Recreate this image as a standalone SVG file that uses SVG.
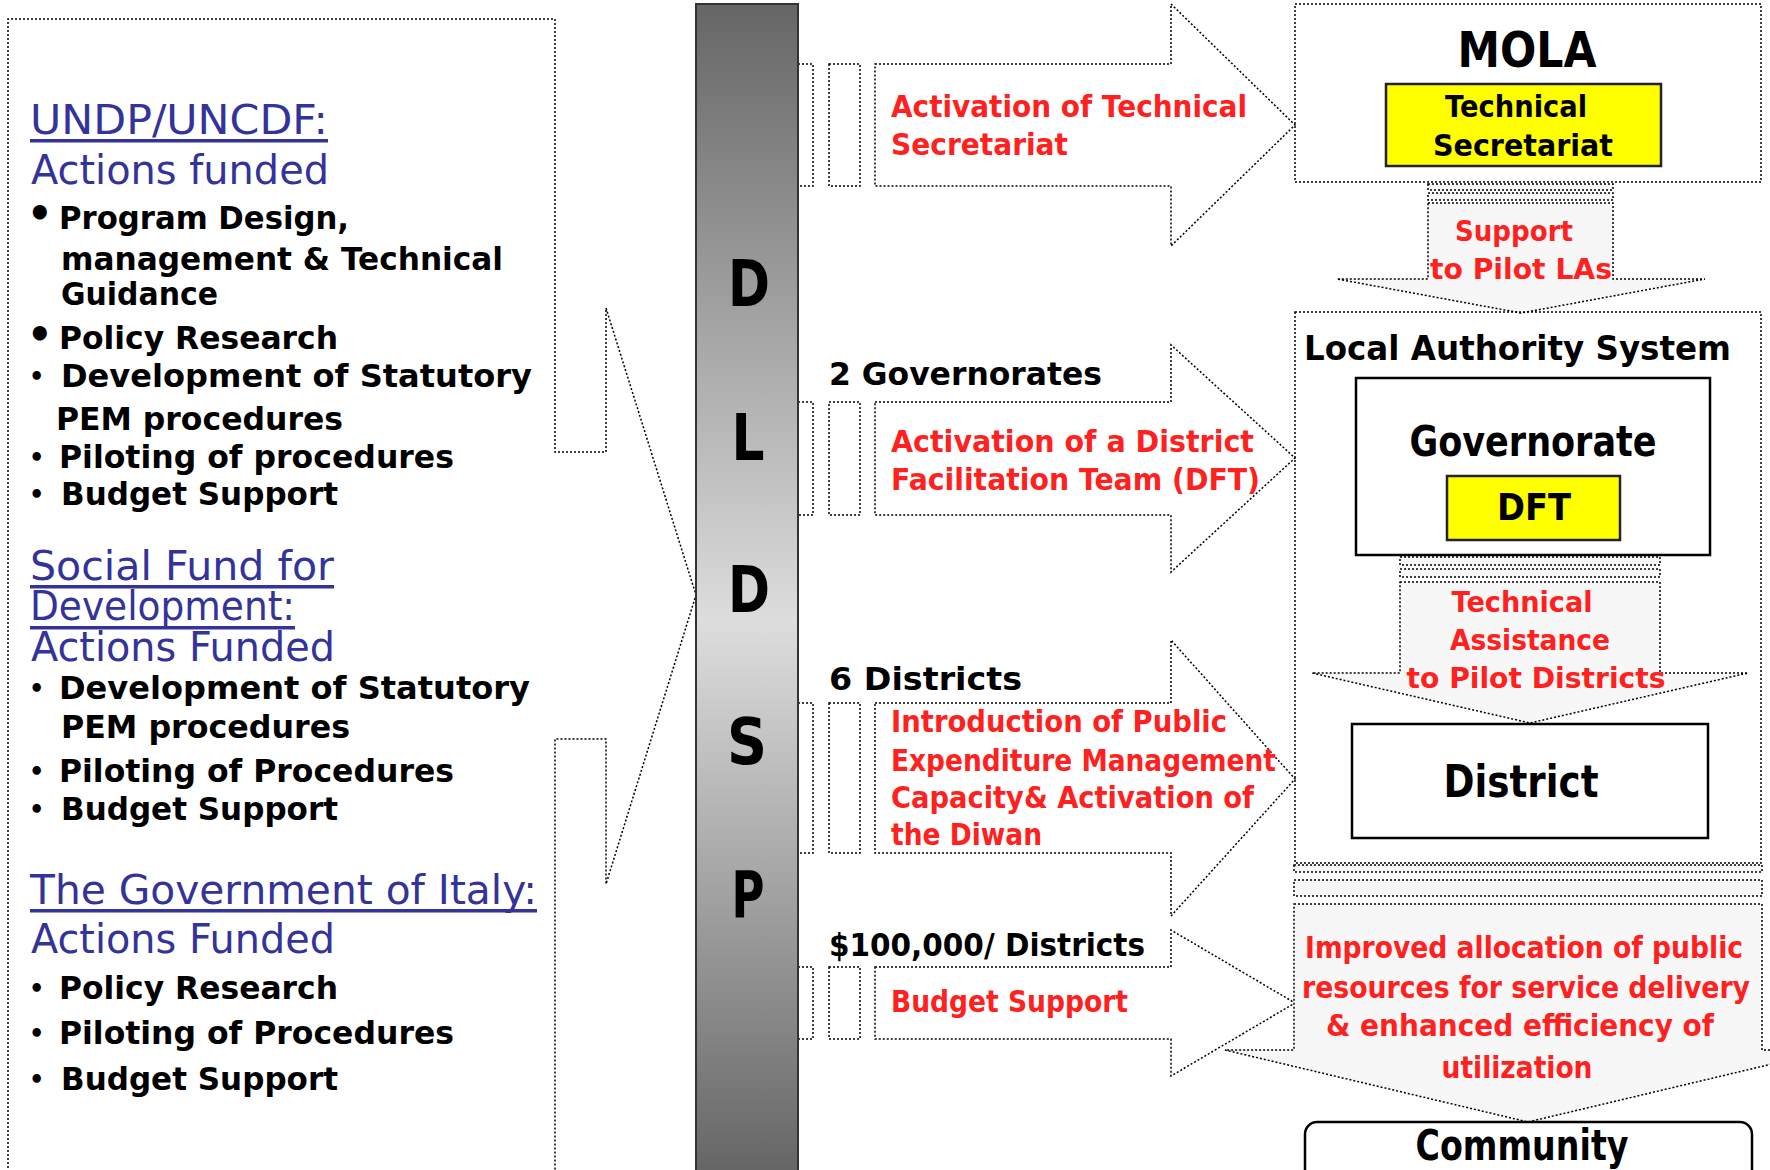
<svg xmlns="http://www.w3.org/2000/svg" width="1770" height="1170" viewBox="0 0 1770 1170">
<defs>
<style>
.dot{fill:none;stroke:#000;stroke-width:1.5;stroke-dasharray:2 2}
.dotf{fill:#f7f7f7;stroke:#000;stroke-width:1.5;stroke-dasharray:2 2}
.solid{fill:#fff;stroke:#000;stroke-width:2.5}
.yel{fill:#ffff00;stroke:#222;stroke-width:2.5}
.b{font-family:"DejaVu Sans",sans-serif;font-weight:bold;fill:#000}
.r{font-family:"DejaVu Sans",sans-serif;font-weight:bold;fill:#ff2020}
.u{font-family:"DejaVu Sans",sans-serif;fill:#333399;font-size:41px}
.lt{font-size:32px}
.sb{font-size:24px}
.m{text-anchor:middle}
</style>
<linearGradient id="barGrad" gradientUnits="userSpaceOnUse" x1="0" y1="4" x2="0" y2="1170">
<stop offset="0" stop-color="#666666"/>
<stop offset="0.53" stop-color="#dddddd"/>
<stop offset="1" stop-color="#666666"/>
</linearGradient>
</defs>
<rect width="1770" height="1170" fill="#fff"/>

<g id="left-box">
<path class="dot" d="M8,1180 V19 H555 V452 H606 V308 L696,595 L606,884 V739 H555 V1180"/>
<text class="u" x="30" y="134" textLength="298" lengthAdjust="spacingAndGlyphs">UNDP/UNCDF:</text>
<rect x="30" y="139" width="298" height="3.5" fill="#333399"/>
<text class="u" x="31" y="184" textLength="298" lengthAdjust="spacingAndGlyphs">Actions funded</text>
<text class="b" x="27" y="227" font-size="40">•</text>
<text class="b lt" x="59" y="229" textLength="290" lengthAdjust="spacingAndGlyphs">Program Design,</text>
<text class="b lt" x="61" y="270" textLength="442" lengthAdjust="spacingAndGlyphs">management &amp; Technical</text>
<text class="b lt" x="61" y="305" textLength="157" lengthAdjust="spacingAndGlyphs">Guidance</text>
<text class="b" x="27" y="348" font-size="40">•</text>
<text class="b lt" x="59" y="349" textLength="279" lengthAdjust="spacingAndGlyphs">Policy Research</text>
<text class="b sb" x="29" y="385">•</text>
<text class="b lt" x="61" y="387" textLength="471" lengthAdjust="spacingAndGlyphs">Development of Statutory</text>
<text class="b lt" x="56" y="430" textLength="287" lengthAdjust="spacingAndGlyphs">PEM procedures</text>
<text class="b sb" x="29" y="466">•</text>
<text class="b lt" x="59" y="468" textLength="395" lengthAdjust="spacingAndGlyphs">Piloting of procedures</text>
<text class="b sb" x="29" y="503">•</text>
<text class="b lt" x="61" y="505" textLength="277" lengthAdjust="spacingAndGlyphs">Budget Support</text>

<text class="u" x="30" y="580" textLength="304" lengthAdjust="spacingAndGlyphs">Social Fund for</text>
<rect x="30" y="585" width="304" height="3.5" fill="#333399"/>
<text class="u" x="30" y="620" textLength="265" lengthAdjust="spacingAndGlyphs">Development:</text>
<rect x="30" y="626" width="265" height="3.5" fill="#333399"/>
<text class="u" x="31" y="661" textLength="304" lengthAdjust="spacingAndGlyphs">Actions Funded</text>
<text class="b sb" x="29" y="697">•</text>
<text class="b lt" x="59" y="699" textLength="471" lengthAdjust="spacingAndGlyphs">Development of Statutory</text>
<text class="b lt" x="61" y="738" textLength="289" lengthAdjust="spacingAndGlyphs">PEM procedures</text>
<text class="b sb" x="29" y="780">•</text>
<text class="b lt" x="59" y="782" textLength="395" lengthAdjust="spacingAndGlyphs">Piloting of Procedures</text>
<text class="b sb" x="29" y="818">•</text>
<text class="b lt" x="61" y="820" textLength="277" lengthAdjust="spacingAndGlyphs">Budget Support</text>

<text class="u" x="30" y="904" textLength="507" lengthAdjust="spacingAndGlyphs">The Government of Italy:</text>
<rect x="30" y="909" width="507" height="3.5" fill="#333399"/>
<text class="u" x="31" y="953" textLength="304" lengthAdjust="spacingAndGlyphs">Actions Funded</text>
<text class="b sb" x="29" y="997">•</text>
<text class="b lt" x="59" y="999" textLength="279" lengthAdjust="spacingAndGlyphs">Policy Research</text>
<text class="b sb" x="29" y="1042">•</text>
<text class="b lt" x="59" y="1044" textLength="395" lengthAdjust="spacingAndGlyphs">Piloting of Procedures</text>
<text class="b sb" x="29" y="1088">•</text>
<text class="b lt" x="61" y="1090" textLength="277" lengthAdjust="spacingAndGlyphs">Budget Support</text>
</g>

<g id="connectors">
<g id="arrow-1">
<rect class="dot" x="790" y="64" width="23" height="122"/>
<rect class="dot" x="829" y="64" width="31" height="122"/>
<path class="dot" d="M875,64 H1171 V4 L1295,125 L1171,246 V186 H875 Z"/>
<text class="r" font-size="30" x="891" y="117" textLength="356" lengthAdjust="spacingAndGlyphs">Activation of Technical</text>
<text class="r" font-size="30" x="891" y="155" textLength="177" lengthAdjust="spacingAndGlyphs">Secretariat</text>
</g>
<g id="arrow-2">
<rect class="dot" x="790" y="402" width="23" height="113"/>
<rect class="dot" x="829" y="402" width="31" height="113"/>
<path class="dot" d="M875,402 H1171 V345 L1295,458 L1171,572 V515 H875 Z"/>
<text class="b" font-size="32" x="829" y="385" textLength="273" lengthAdjust="spacingAndGlyphs">2 Governorates</text>
<text class="r" font-size="30" x="891" y="452" textLength="363" lengthAdjust="spacingAndGlyphs">Activation of a District</text>
<text class="r" font-size="30" x="891" y="490" textLength="369" lengthAdjust="spacingAndGlyphs">Facilitation Team (DFT)</text>
</g>
<g id="arrow-3">
<rect class="dot" x="790" y="703" width="23" height="150"/>
<rect class="dot" x="829" y="703" width="31" height="150"/>
<path class="dot" d="M875,703 H1171 V640 L1295,779 L1171,916 V853 H875 Z"/>
<text class="b" font-size="32" x="829" y="690" textLength="193" lengthAdjust="spacingAndGlyphs">6 Districts</text>
<text class="r" font-size="30" x="891" y="732" textLength="336" lengthAdjust="spacingAndGlyphs">Introduction of Public</text>
<text class="r" font-size="30" x="891" y="771" textLength="385" lengthAdjust="spacingAndGlyphs">Expenditure Management</text>
<text class="r" font-size="30" x="891" y="808" textLength="363" lengthAdjust="spacingAndGlyphs">Capacity&amp; Activation of</text>
<text class="r" font-size="30" x="891" y="845" textLength="151" lengthAdjust="spacingAndGlyphs">the Diwan</text>
</g>
<g id="arrow-4">
<rect class="dot" x="790" y="967" width="23" height="72"/>
<rect class="dot" x="829" y="967" width="31" height="72"/>
<path class="dot" d="M875,967 H1171 V930 L1295,1003 L1171,1076 V1039 H875 Z"/>
<text class="b" font-size="32" x="829" y="956" textLength="316" lengthAdjust="spacingAndGlyphs">$100,000/ Districts</text>
<text class="r" font-size="30" x="891" y="1012" textLength="237" lengthAdjust="spacingAndGlyphs">Budget Support</text>
</g>
<g id="arrow-down-1">
<rect class="dotf" x="1428" y="184" width="185" height="6"/>
<rect class="dotf" x="1428" y="193" width="185" height="7"/>
<path class="dotf" d="M1428,203 H1613 V279 H1705 L1521,313 L1337,279 H1428 Z"/>
<text class="r m" font-size="29" x="1514" y="241" textLength="118" lengthAdjust="spacingAndGlyphs">Support</text>
<text class="r m" font-size="29" x="1521" y="279" textLength="182" lengthAdjust="spacingAndGlyphs">to Pilot LAs</text>
</g>
</g>

<g id="dldsp-bar">
<rect x="696" y="4" width="102" height="1180" fill="url(#barGrad)" stroke="#333" stroke-width="2"/>
<text class="b m" font-size="64" x="749" y="306" textLength="42" lengthAdjust="spacingAndGlyphs">D</text>
<text class="b m" font-size="64" x="748" y="460" textLength="33" lengthAdjust="spacingAndGlyphs">L</text>
<text class="b m" font-size="64" x="749" y="612" textLength="42" lengthAdjust="spacingAndGlyphs">D</text>
<text class="b m" font-size="64" x="747" y="764" textLength="40" lengthAdjust="spacingAndGlyphs">S</text>
<text class="b m" font-size="64" x="748" y="917" textLength="33" lengthAdjust="spacingAndGlyphs">P</text>
</g>

<g id="mola">
<rect class="dot" x="1295" y="4" width="466" height="178"/>
<text class="b m" font-size="50" x="1527" y="67" textLength="139" lengthAdjust="spacingAndGlyphs">MOLA</text>
</g>
<g id="technical-secretariat">
<rect class="yel" x="1386" y="84" width="275" height="82"/>
<text class="b m" font-size="30" x="1516" y="117" textLength="142" lengthAdjust="spacingAndGlyphs">Technical</text>
<text class="b m" font-size="30" x="1523" y="156" textLength="180" lengthAdjust="spacingAndGlyphs">Secretariat</text>
</g>

<g id="local-authority-system">
<rect class="dot" x="1295" y="312" width="466" height="551"/>
<text class="b" font-size="34" x="1304" y="360" textLength="427" lengthAdjust="spacingAndGlyphs">Local Authority System</text>
</g>
<g id="governorate">
<rect class="solid" x="1356" y="378" width="354" height="177"/>
<text class="b m" font-size="42" x="1533" y="456" textLength="247" lengthAdjust="spacingAndGlyphs">Governorate</text>
</g>
<g id="dft">
<rect class="yel" x="1447" y="476" width="173" height="64"/>
<text class="b m" font-size="37" x="1534" y="520" textLength="74" lengthAdjust="spacingAndGlyphs">DFT</text>
</g>

<g id="arrow-down-2">
<rect class="dotf" x="1400" y="557" width="260" height="8"/>
<rect class="dotf" x="1400" y="569" width="260" height="8"/>
<path class="dotf" d="M1400,582 H1660 V673 H1748 L1530,723 L1312,673 H1400 Z"/>
<text class="r m" font-size="29" x="1522" y="612" textLength="141" lengthAdjust="spacingAndGlyphs">Technical</text>
<text class="r m" font-size="29" x="1530" y="650" textLength="160" lengthAdjust="spacingAndGlyphs">Assistance</text>
<text class="r m" font-size="29" x="1536" y="688" textLength="259" lengthAdjust="spacingAndGlyphs">to Pilot Districts</text>
</g>

<g id="district">
<rect class="solid" x="1352" y="724" width="356" height="114"/>
<text class="b m" font-size="44" x="1521" y="797" textLength="155" lengthAdjust="spacingAndGlyphs">District</text>
</g>

<g id="arrow-down-3">
<rect class="dotf" x="1294" y="865" width="468" height="7"/>
<rect class="dotf" x="1294" y="880" width="468" height="16"/>
<path class="dotf" d="M1294,904 H1762 V1050 H1831 L1528,1122 L1225,1050 H1294 Z"/>
<text class="r m" font-size="30" x="1524" y="958" textLength="438" lengthAdjust="spacingAndGlyphs">Improved allocation of public</text>
<text class="r m" font-size="30" x="1526" y="998" textLength="448" lengthAdjust="spacingAndGlyphs">resources for service delivery</text>
<text class="r m" font-size="30" x="1520" y="1036" textLength="388" lengthAdjust="spacingAndGlyphs">&amp; enhanced efficiency of</text>
<text class="r m" font-size="30" x="1517" y="1078" textLength="151" lengthAdjust="spacingAndGlyphs">utilization</text>
</g>

<g id="community">
<rect class="solid" x="1305" y="1122" width="447" height="80" rx="12"/>
<text class="b m" font-size="42" x="1522" y="1160" textLength="213" lengthAdjust="spacingAndGlyphs">Community</text>
</g>
</svg>
